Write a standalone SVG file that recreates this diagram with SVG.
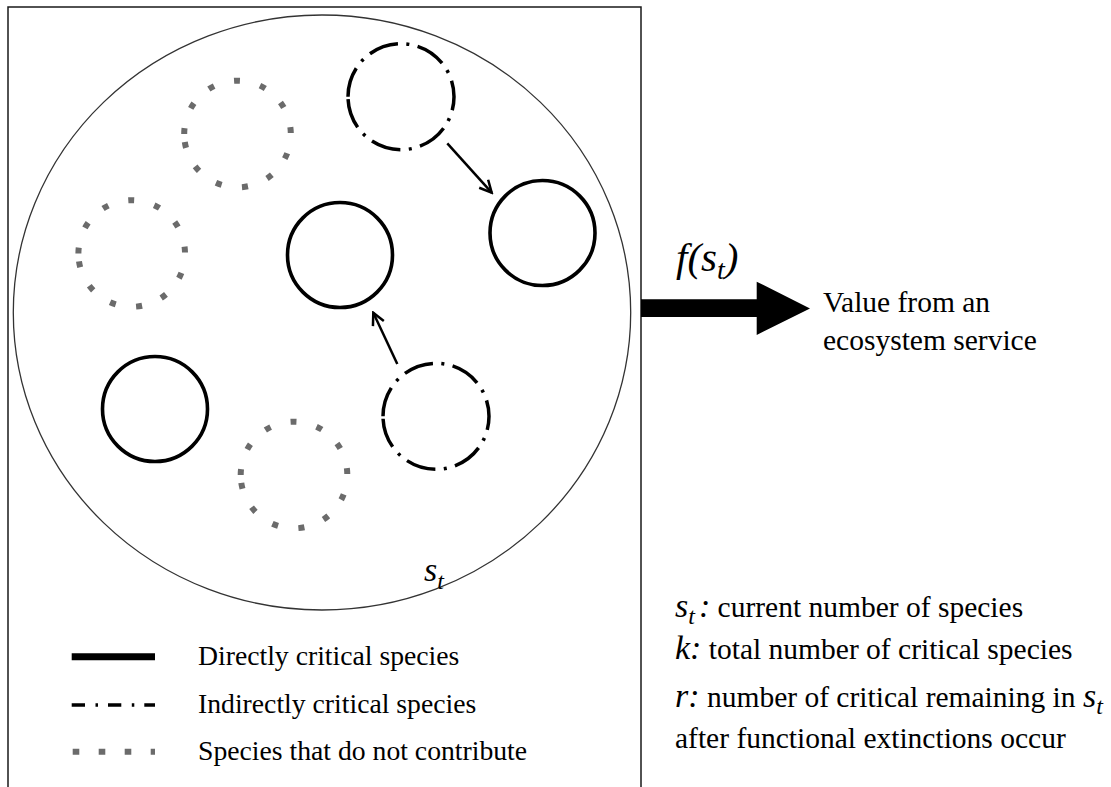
<svg xmlns="http://www.w3.org/2000/svg" width="1111" height="787" viewBox="0 0 1111 787">
<style>
 .frame{fill:none;stroke:#1a1a1a;stroke-width:1.5}
 .outer{fill:none;stroke:#333;stroke-width:1.3}
 .solid{fill:none;stroke:#000;stroke-width:3.6}
 .dashdot{fill:none;stroke:#000;stroke-width:3.5;stroke-dasharray:30 8.5 3 8.5}
 .dotted{fill:none;stroke:#6b6b6b;stroke-width:6;stroke-dasharray:6 20.7}
 .conn{fill:none;stroke:#000;stroke-width:2.5;marker-end:url(#ah)}
 text{font-family:"Liberation Serif","Times New Roman",serif;fill:#000}
 .lg{font-size:27.7px}
 .rt{font-size:29.5px}
 .it{font-style:italic}
</style>
<defs>
 <marker id="ah" markerUnits="userSpaceOnUse" markerWidth="16" markerHeight="16" viewBox="0 0 16 16" refX="14" refY="8" orient="auto">
  <path d="M2,2 L14,8 L2,14" fill="none" stroke="#000" stroke-width="2.5"/>
 </marker>
</defs>
<rect width="1111" height="787" fill="#fff"/>
<g id="frame">
 <path class="frame" d="M8,787 V7 H641 V787"/>
 <ellipse class="outer" cx="322" cy="312.5" rx="308.7" ry="297.5"/>
 <text x="424" y="581" class="it" font-size="34">s<tspan font-size="24" dy="8">t</tspan></text>
</g>
<g id="dd-top"><path class="dashdot" d="M348,96.7 A53,53 0 1 1 454,96.7 A53,53 0 1 1 348,96.7"/></g>
<g id="dd-low"><path class="dashdot" d="M383,416.3 A53,53 0 1 1 489,416.3 A53,53 0 1 1 383,416.3"/></g>
<g id="solid-center"><circle class="solid" cx="340" cy="255" r="52.5"/></g>
<g id="solid-right"><circle class="solid" cx="542.5" cy="233" r="52.5"/></g>
<g id="solid-left"><circle class="solid" cx="155" cy="409" r="52.5"/></g>
<g id="dot-top"><path class="dotted" d="M184.2,134 A53.3,53.3 0 1 1 290.8,134 A53.3,53.3 0 1 1 184.2,134"/></g>
<g id="dot-left"><path class="dotted" d="M78.4,253.5 A53.3,53.3 0 1 1 185,253.5 A53.3,53.3 0 1 1 78.4,253.5"/></g>
<g id="dot-bottom"><path class="dotted" d="M240.7,475 A53.3,53.3 0 1 1 347.3,475 A53.3,53.3 0 1 1 240.7,475"/></g>
<g id="connectors">
 <line class="conn" x1="447.3" y1="143.3" x2="491.7" y2="192.7"/>
 <line class="conn" x1="397.3" y1="364" x2="373.3" y2="312.7"/>
</g>
<g id="output">
 <polygon points="641,299.3 756.7,299.3 756.7,281.7 810,308.5 756.7,335 756.7,317 641,317" fill="#000"/>
 <text x="676" y="271" class="it" font-size="41">f(s<tspan font-size="28" dy="8">t</tspan><tspan dy="-8">)</tspan></text>
 <text class="rt" x="823" y="312">Value from an</text>
 <text class="rt" x="823" y="350">ecosystem service</text>
</g>
<g id="legend">
 <line x1="71.7" y1="656.7" x2="155" y2="656.7" stroke="#000" stroke-width="7"/>
 <line x1="71.7" y1="705" x2="155" y2="705" stroke="#000" stroke-width="3.5" stroke-dasharray="13.3 10.5 2.5 10"/>
 <line x1="72.7" y1="751.7" x2="155" y2="751.7" stroke="#6b6b6b" stroke-width="6" stroke-dasharray="6.6 19.4"/>
 <text class="lg" x="198" y="665">Directly critical species</text>
 <text class="lg" x="198" y="713">Indirectly critical species</text>
 <text class="lg" x="198" y="760">Species that do not contribute</text>
</g>
<g id="definitions">
 <text class="rt" x="675" y="617"><tspan class="it" font-size="34">s</tspan><tspan class="it" font-size="24" dy="7">t</tspan><tspan class="it" font-size="34" dy="-7" dx="4">:</tspan> current number of species</text>
 <text class="rt" x="675" y="659"><tspan class="it" font-size="34">k:</tspan> total number of critical species</text>
 <text class="rt" x="675" y="707"><tspan class="it" font-size="34">r:</tspan> number of critical remaining in <tspan class="it" font-size="34">s</tspan><tspan class="it" font-size="24" dy="7">t</tspan></text>
 <text class="rt" x="675" y="748">after functional extinctions occur</text>
</g>
</svg>
